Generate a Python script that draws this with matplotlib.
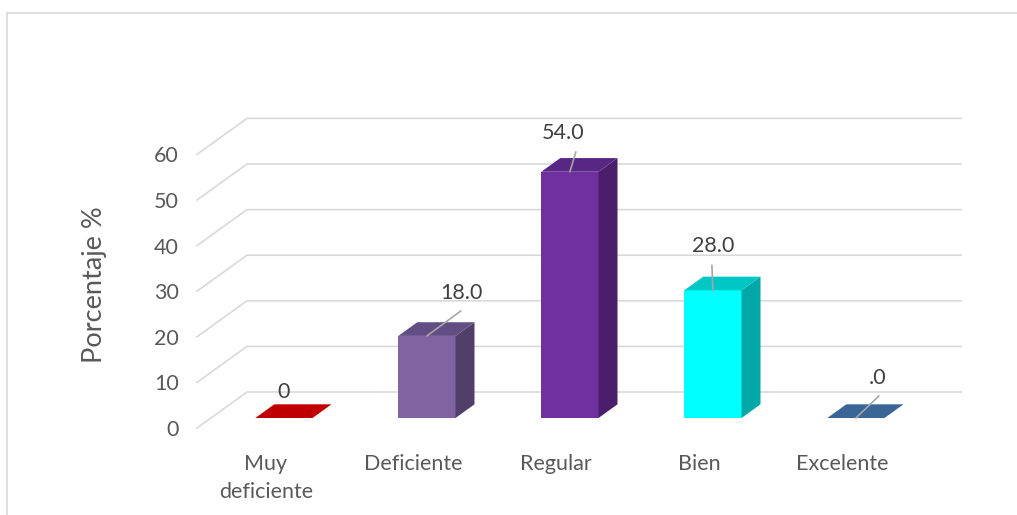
import matplotlib
matplotlib.use('Agg')
import matplotlib.pyplot as plt
import matplotlib.transforms as mtransforms
from matplotlib.patches import Polygon

categories = ['Muy\ndeficiente', 'Deficiente', 'Regular', 'Bien', 'Excelente']
values = [0, 18.0, 54.0, 28.0, 0]
value_labels = ['0', '18.0', '54.0', '28.0', '.0']
yticks = [0, 10, 20, 30, 40, 50, 60]

# face colours: front, side, top
front_c = ['#C00000', '#8064A2', '#7030A0', '#00FFFF', '#3A6597']
side_c = ['#900000', '#513F69', '#4A1E6A', '#00A8A8', '#284B73']
top_c = ['#C00000', '#624D84', '#582683', '#00C6C6', '#3A6597']

# label / leader offsets in pixels (style only)
lab_off = [(0, 26), (35, 43), (-7, 39), (0, 44), (22, 40)]
lead_off = [None, (34, 25), (6, 20), (-1, 25), (23, 22)]

plt.rcParams['font.family'] = ['Lato', 'DejaVu Sans']
fs = 15.5

W, H = 1017, 515
fig = plt.figure(figsize=(W / 100, H / 100), dpi=100)

# axes: category index -> px 270 + 143*i ; value -> px 428 - 4.56*v
x0px, catpx = 270, 143
y0px, vpx = 428, 4.56
left = (x0px - 0.5 * catpx) / W
width = 5 * catpx / W
bottom = (H - y0px) / H
height = 60 * vpx / H
ax = fig.add_axes([left, bottom, width, height])
ax.set_xlim(-0.5, 4.5)
ax.set_ylim(0, 60)
for s in ax.spines.values():
    s.set_visible(False)

# oblique depth (one unit = floor front to back wall)
ddx = 50 / catpx
ddy = 36 / vpx

# gridlines: front diagonal + back wall line
x_front = (197 - x0px) / catpx
x_end = (961 - x0px) / catpx
for v in yticks:
    ax.plot([x_front, x_front + ddx, x_end], [v, v + ddy, v + ddy],
            color='#D9D9D9', lw=1.2, clip_on=False, zorder=1)

bw = 0.4
d_front, d_back = 0.278, 0.278 + 0.38
for i, v in enumerate(values):
    xa = i - bw / 2 + d_front * ddx
    xb = i + bw / 2 + d_front * ddx
    ya = d_front * ddy
    ox = (d_back - d_front) * ddx
    oy = (d_back - d_front) * ddy
    if v > 0:
        ax.add_patch(Polygon([(xa, ya), (xb, ya), (xb, ya + v), (xa, ya + v)],
                             closed=True, fc=front_c[i], ec='none', zorder=3, clip_on=False))
        ax.add_patch(Polygon([(xb, ya), (xb + ox, ya + oy), (xb + ox, ya + oy + v), (xb, ya + v)],
                             closed=True, fc=side_c[i], ec='none', zorder=3, clip_on=False))
    ax.add_patch(Polygon([(xa, ya + v), (xb, ya + v), (xb + ox, ya + v + oy), (xa + ox, ya + v + oy)],
                         closed=True, fc=top_c[i], ec='none', zorder=3, clip_on=False))
    anchor = (i + d_front * ddx, ya + v)
    if lead_off[i] is not None:
        ax.annotate('', xy=anchor, xytext=lead_off[i], textcoords='offset pixels',
                    arrowprops=dict(arrowstyle='-', color='#A6A6A6', lw=1.2,
                                    shrinkA=0, shrinkB=0), zorder=4)
    ax.annotate(value_labels[i], xy=anchor, xytext=lab_off[i], textcoords='offset pixels',
                ha='center', va='center', fontsize=fs, color='#404040', zorder=5)

ax.set_yticks(yticks)
ax.set_xticks(range(len(categories)))
ax.set_xticklabels(categories, fontsize=fs, color='#595959', linespacing=1.45)
ax.tick_params(axis='y', length=0, pad=14, labelsize=fs, labelcolor='#595959')
ax.tick_params(axis='x', length=0, pad=19)
first = ax.get_xticklabels()[0]
first.set_transform(first.get_transform() +
                    mtransforms.ScaledTranslation(-4 / 100, 0, fig.dpi_scale_trans))

ax.set_ylabel('Porcentaje %', fontsize=19.5, color='#595959')
ax.yaxis.set_label_coords((107 - x0px + 0.5 * catpx) / (5 * catpx), (y0px - 285) / (60 * vpx))

# chart area border (partially cropped in the original)
fig.add_artist(plt.Line2D([7 / W, 1], [1 - 13 / H, 1 - 13 / H], color='#D9D9D9', lw=1.2))
fig.add_artist(plt.Line2D([7 / W, 7 / W], [0, 1 - 13 / H], color='#D9D9D9', lw=1.2))

fig.savefig('out.png', dpi=100, facecolor='white')
